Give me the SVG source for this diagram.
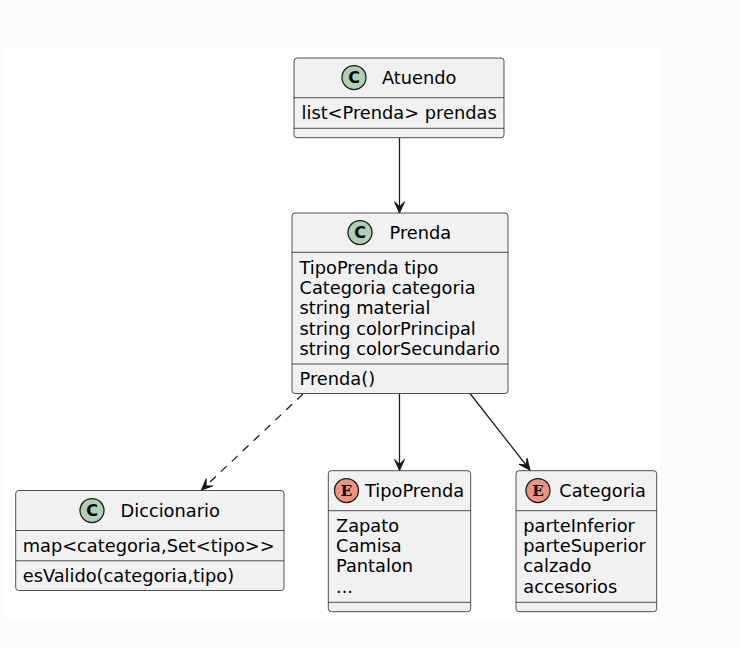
<svg xmlns="http://www.w3.org/2000/svg" width="740" height="648" viewBox="0 0 740 648">
<style>
.box{fill:#F1F1F1;stroke:#181818;stroke-width:0.75}
.div{stroke:#181818;stroke-width:0.75}
.t{font-family:"DejaVu Sans","Liberation Sans",sans-serif;font-size:17.8px;fill:#000}
.cc{fill:#ADD1B2;stroke:#181818;stroke-width:1.25}
.ec{fill:#EB937F;stroke:#181818;stroke-width:1.25}
.cl{font-family:"DejaVu Sans","Liberation Sans",sans-serif;font-size:16px;font-weight:bold;text-anchor:middle;fill:#000}
.el{font-family:"DejaVu Serif","Liberation Serif",serif;font-size:15px;font-weight:bold;text-anchor:middle;fill:#000}
.ln{fill:none;stroke:#181818;stroke-width:1.25}
</style>
<defs>
<marker id="arr" markerUnits="userSpaceOnUse" markerWidth="14" markerHeight="12" viewBox="-12 -6 14 12" refX="0" refY="0" orient="auto">
<path d="M0,0 L-11.25,-5 L-6.25,0 L-11.25,5 Z" fill="#181818" stroke="#181818" stroke-width="1"/>
</marker>
</defs>
<rect x="0" y="0" width="740" height="648" fill="#FCFCFC"/>
<rect x="5" y="48" width="655" height="570" fill="#FFFFFF"/>

<g id="connectors">
<line class="ln" x1="399.5" y1="138" x2="399.5" y2="213" marker-end="url(#arr)"/>
<line class="ln" x1="303" y1="394" x2="201.5" y2="490" stroke-dasharray="8,7" marker-end="url(#arr)"/>
<line class="ln" x1="399.5" y1="393.5" x2="399.5" y2="470.5" marker-end="url(#arr)"/>
<line class="ln" x1="470" y1="393.5" x2="530" y2="470" marker-end="url(#arr)"/>
</g>

<g id="Atuendo">
<rect class="box" x="294" y="58" width="210" height="79.7" rx="3" ry="3"/>
<circle class="cc" cx="354" cy="77.5" r="12"/>
<text class="cl" x="354" y="83.2">C</text>
<text class="t" x="382" y="84">Atuendo</text>
<line class="div" x1="294" y1="97.7" x2="504" y2="97.7"/>
<text class="t" x="301.5" y="118.5">list&lt;Prenda&gt; prendas</text>
<line class="div" x1="294" y1="128.3" x2="504" y2="128.3"/>
</g>

<g id="Prenda">
<rect class="box" x="292" y="213" width="216" height="180.5" rx="3" ry="3"/>
<circle class="cc" cx="360" cy="232.5" r="12"/>
<text class="cl" x="360" y="238.2">C</text>
<text class="t" x="389.5" y="239">Prenda</text>
<line class="div" x1="292" y1="252.3" x2="508" y2="252.3"/>
<text class="t" x="299.5" y="273.5">TipoPrenda tipo</text>
<text class="t" x="299.5" y="293.9">Categoria categoria</text>
<text class="t" x="299.5" y="314.3">string material</text>
<text class="t" x="299.5" y="334.7">string colorPrincipal</text>
<text class="t" x="299.5" y="355.1">string colorSecundario</text>
<line class="div" x1="292" y1="364" x2="508" y2="364"/>
<text class="t" x="299.5" y="384.5">Prenda()</text>
</g>

<g id="Diccionario">
<rect class="box" x="15.7" y="490.5" width="268.3" height="100" rx="3" ry="3"/>
<circle class="cc" cx="92" cy="510.5" r="12"/>
<text class="cl" x="92" y="516.2">C</text>
<text class="t" x="120.5" y="517">Diccionario</text>
<line class="div" x1="15.7" y1="530.5" x2="284" y2="530.5"/>
<text class="t" x="22.7" y="551.5">map&lt;categoria,Set&lt;tipo&gt;&gt;</text>
<line class="div" x1="15.7" y1="560.8" x2="284" y2="560.8"/>
<text class="t" x="22.7" y="581.7">esValido(categoria,tipo)</text>
</g>

<g id="TipoPrenda">
<rect class="box" x="328.3" y="470.7" width="142.4" height="141" rx="3" ry="3"/>
<circle class="ec" cx="346.5" cy="490.5" r="12"/>
<text class="el" x="346.5" y="495.8">E</text>
<text class="t" x="365" y="497">TipoPrenda</text>
<line class="div" x1="328.3" y1="510.7" x2="470.7" y2="510.7"/>
<text class="t" x="336" y="531.5">Zapato</text>
<text class="t" x="336" y="551.9">Camisa</text>
<text class="t" x="336" y="572.3">Pantalon</text>
<text class="t" x="336" y="592.7">...</text>
<line class="div" x1="328.3" y1="602.3" x2="470.7" y2="602.3"/>
</g>

<g id="Categoria">
<rect class="box" x="516" y="470.7" width="140.7" height="141" rx="3" ry="3"/>
<circle class="ec" cx="538" cy="490.5" r="12"/>
<text class="el" x="538" y="495.8">E</text>
<text class="t" x="559.3" y="497">Categoria</text>
<line class="div" x1="516" y1="510.7" x2="656.7" y2="510.7"/>
<text class="t" x="523.3" y="531.5">parteInferior</text>
<text class="t" x="523.3" y="551.9">parteSuperior</text>
<text class="t" x="523.3" y="572.3">calzado</text>
<text class="t" x="523.3" y="592.7">accesorios</text>
<line class="div" x1="516" y1="602.3" x2="656.7" y2="602.3"/>
</g>
</svg>
